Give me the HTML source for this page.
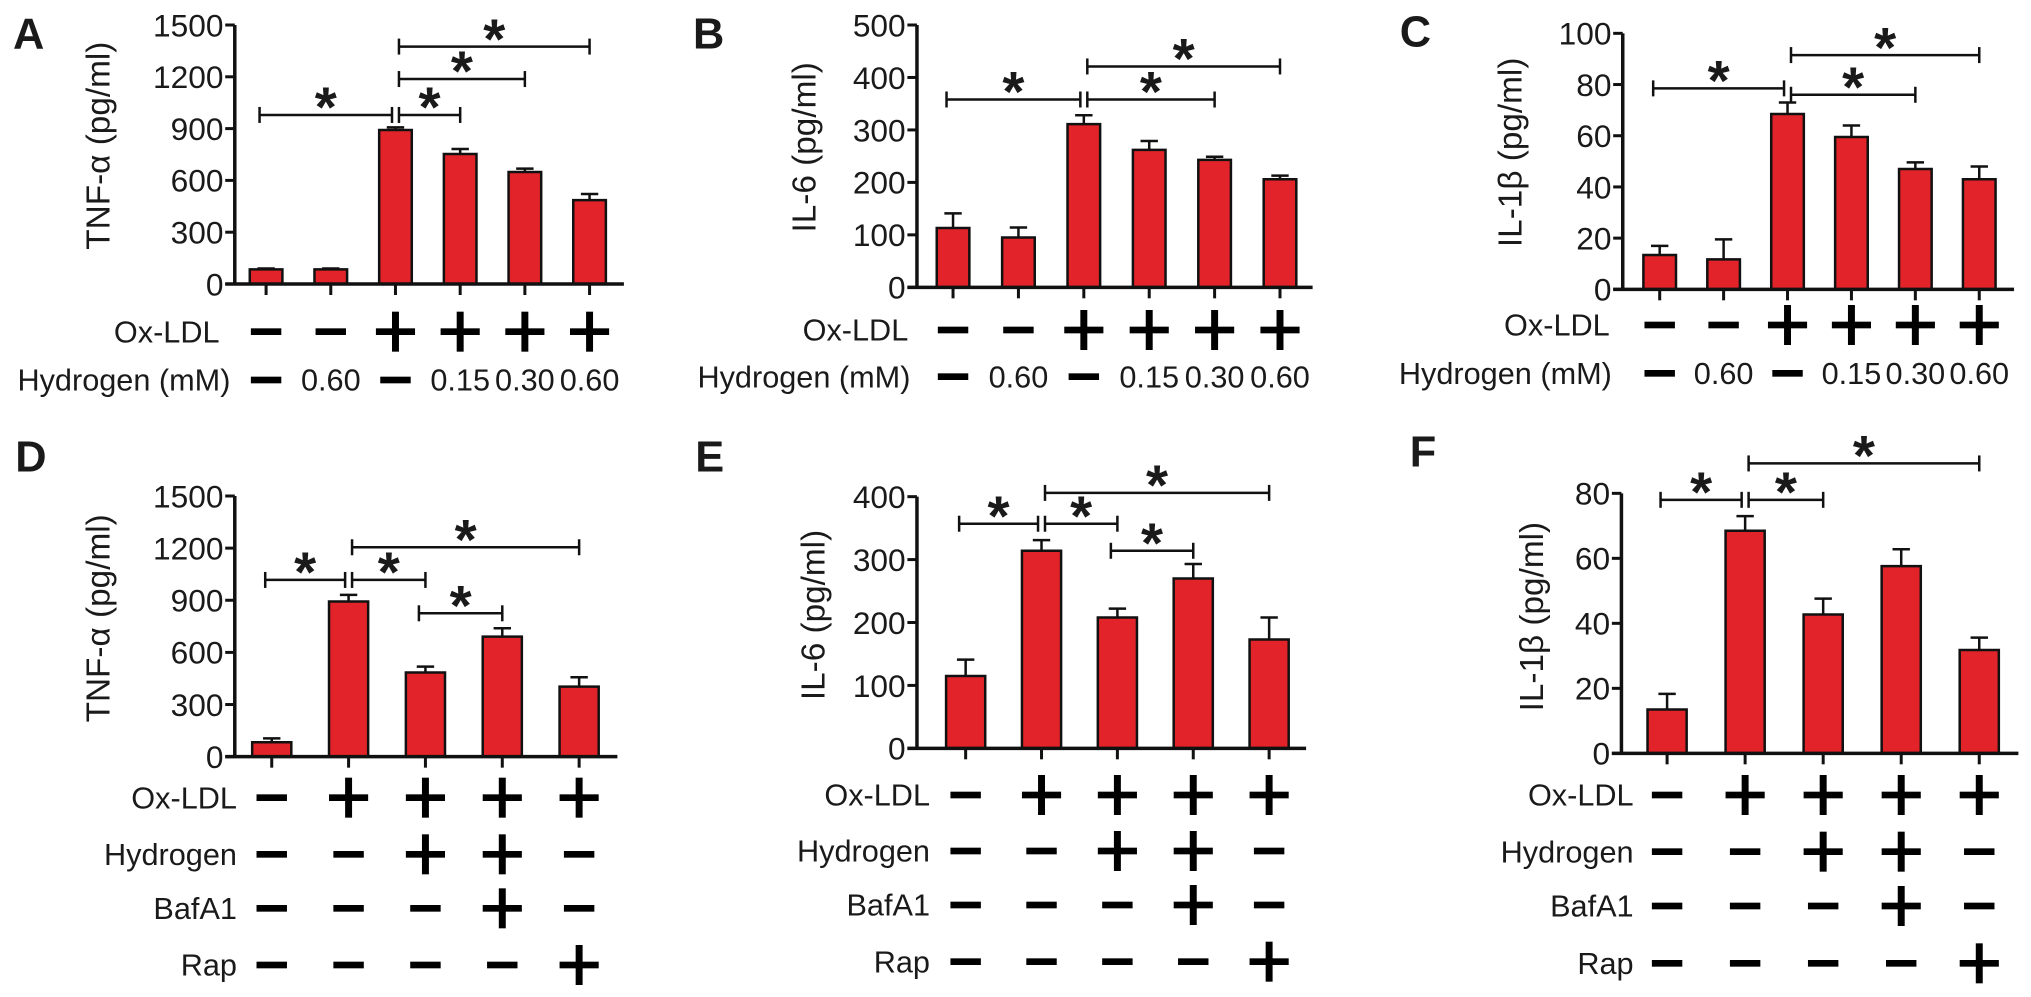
<!DOCTYPE html>
<html><head><meta charset="utf-8"><title>Cytokine bar charts</title>
<style>
html,body{margin:0;padding:0;background:#fff;}
svg{display:block;font-family:"Liberation Sans",Arial,sans-serif;}
</style></head>
<body>
<svg id="fig" width="2031" height="997" viewBox="0 0 2031 997" xmlns="http://www.w3.org/2000/svg">
<rect x="0" y="0" width="2031" height="997" fill="#fff"/>
</svg>
<script>
// ---- data ----
const tnfTicks = [0, 300, 600, 900, 1200, 1500];
const il6TicksTop = [0, 100, 200, 300, 400, 500];
const il1bTicksTop = [0, 20, 40, 60, 80, 100];
const il6TicksBottom = [0, 100, 200, 300, 400];
const il1bTicksBottom = [0, 20, 40, 60, 80];

const aValues = [85, 85, 892, 753, 649, 486];
const aErrors = [5, 5, 15, 29, 19, 35];
const bValues = [113, 95, 311, 262, 243, 206];
const bErrors = [28, 19, 17, 17, 6, 7];
const cValues = [13.4, 11.7, 68.5, 59.5, 47, 43];
const cErrors = [3.6, 7.8, 4.5, 4.5, 2.6, 5];
const dValues = [83, 893, 484, 691, 403];
const dErrors = [22, 38, 34, 48, 54];
const eValues = [115, 314, 208, 270, 173];
const eErrors = [26, 17, 14, 23, 35];
const fValues = [13.5, 68.5, 42.7, 57.6, 31.8];
const fErrors = [4.8, 4.5, 4.9, 5.2, 3.8];

const oxLdlTop = ['-', '-', '+', '+', '+', '+'];
const hydrogenTop = ['-', '0.60', '-', '0.15', '0.30', '0.60'];
const oxLdlBottom = ['-', '+', '+', '+', '+'];
const hydrogenBottom = ['-', '-', '+', '+', '-'];
const bafA1Bottom = ['-', '-', '-', '+', '-'];
const rapBottom = ['-', '-', '-', '-', '+'];

const sigAPairs = [[0, 2], [2, 3], [2, 4], [2, 5]];
const sigALevels = [979, 979, 1187, 1375];
const sigBPairs = [[0, 2], [2, 4], [2, 5]];
const sigBLevels = [358, 358, 421];
const sigCPairs = [[0, 2], [2, 4], [2, 5]];
const sigCLevels = [78.5, 76, 91.5];
const sigDPairs = [[0, 1], [1, 2], [2, 3], [1, 4]];
const sigDLevels = [1017, 1017, 825, 1205];
const sigEPairs = [[0, 1], [1, 2], [2, 3], [1, 4]];
const sigELevels = [357, 357, 314, 406];
const sigFPairs = [[0, 1], [1, 2], [1, 4]];
const sigFLevels = [78, 78, 89.2];

// ---- rendering ----
const NS = 'http://www.w3.org/2000/svg';
const svg = document.getElementById('fig');
const SX = 0.767;
const RED = '#e2242a';
function mk(tag, attrs, parent) {
  const e = document.createElementNS(NS, tag);
  for (const k in attrs) e.setAttribute(k, attrs[k]);
  parent.appendChild(e);
  return e;
}
function txt(parent, s, x, y, size, anchor, bold, rot) {
  const t = mk('text', {
    transform: rot ? `translate(${x},${y}) rotate(-90) scale(1,${SX})` : `translate(${x},${y}) scale(${SX},1)`,
    'font-size': size, 'text-anchor': anchor, 'font-weight': bold ? 'bold' : 'normal', fill: '#1a1a1a'
  }, parent);
  t.textContent = s;
  return t;
}
function line(parent, x1, y1, x2, y2, w) {
  return mk('line', {x1, y1, x2, y2, stroke: '#111', 'stroke-width': w, 'vector-effect': 'non-scaling-stroke'}, parent);
}

function drawPanel(cfg, values, errors, ticks, rows, sigPairs, sigLevels) {
  const g = mk('g', {transform: `translate(${cfg.ox},${cfg.oy}) scale(${1 / 2.3},${1 / 3})`}, svg);
  
  
  const maxT = ticks[ticks.length - 1];
  const y = v => cfg.y0 - v / maxT * (cfg.y0 - cfg.yTop);
  const x = i => cfg.cx0 + i * cfg.step;

  const lt = txt(g, cfg.letter, cfg.letterX, cfg.letterY, 130, 'start', true, false);
  
  

  const tt = txt(g, cfg.title, cfg.titleX + 27, cfg.titleY, 100, 'middle', false, true);
  
  

  values.forEach((v, i) => {
    const top = y(v), et = y(v + errors[i]);
    const eb = line(g, x(i), top, x(i), et, 2.5);
    
    
    const ec = line(g, x(i) - 20, et, x(i) + 20, et, 2.5);
    
    
    const r = mk('rect', {x: x(i) - cfg.barW / 2, y: top, width: cfg.barW, height: cfg.y0 - top, fill: RED, stroke: '#111', 'stroke-width': 2.5, 'vector-effect': 'non-scaling-stroke'}, g);
    
    
    const tk = line(g, x(i), cfg.y0, x(i), cfg.y0 + 33, 3);
    
    
  });

  const ya = line(g, cfg.axisX, y(maxT), cfg.axisX, cfg.y0, 3.5);
  
  
  const xa = line(g, cfg.axisX - 22, cfg.y0, cfg.xEnd, cfg.y0, 3.5);
  
  
  ticks.forEach(t => {
    const tl = line(g, cfg.axisX - 22, y(t), cfg.axisX, y(t), 3);
    
    
    const lb = txt(g, String(t), cfg.axisX - 26, y(t) + 34, 95, 'end', false, false);
    
    
  });

  rows.forEach((row, ri) => {
    const ry = cfg.rows[ri];
    const rl = txt(g, row.label, cfg.labX[ri], ry + 32, 92, 'end', false, false);
    
    
    row.items.forEach((it, i) => {
      const cx = x(i);
      if (it === '-') {
        const m = mk('rect', {x: cx - 35, y: ry - 10, width: 70, height: 20, fill: '#000'}, g);
        
        
      } else if (it === '+') {
        const p = mk('g', {}, g);
        
        
        mk('rect', {x: cx - 45, y: ry - 10, width: 90, height: 20, fill: '#000'}, p);
        mk('rect', {x: cx - 8, y: ry - 60, width: 16, height: 120, fill: '#000'}, p);
      } else {
        const d = txt(g, it, cx, ry + 32, 92, 'middle', false, false);
        
        
      }
    });
  });

  sigPairs.forEach((pr, k) => {
    const ly = y(sigLevels[k]);
    const x1 = x(pr[0]) + (pr[0] === cfg.hub ? 8 : -15);
    const x2 = x(pr[1]) + (pr[1] === cfg.hub ? -8 : 0);
    const sg = mk('g', {}, g);
    
    
    line(sg, x1, ly, x2, ly, 2.5);
    line(sg, x1, ly - 24, x1, ly + 24, 2.5);
    line(sg, x2, ly - 24, x2, ly + 24, 2.5);
    const st = txt(sg, '*', (x1 + x2) / 2, ly + 35, 170, 'middle', true, false);
    
    
  });
}

const cfgA = {letter: 'A', ox: 0, oy: 0, axisX: 540, y0: 852, yTop: 75, cx0: 612, step: 148.8, xEnd: 1435, barW: 75, rows: [995, 1140], labX: [505, 530], title: 'TNF-α (pg/ml)', titleX: 225, titleY: 437, letterX: 30, letterY: 145, hub: 2};
const cfgB = {letter: 'B', ox: 680, oy: 0, axisX: 545, y0: 862, yTop: 75, cx0: 628, step: 150.4, xEnd: 1455, barW: 75, rows: [990, 1130], labX: [525, 530], title: 'IL-6 (pg/ml)', titleX: 285, titleY: 442, letterX: 30, letterY: 145, hub: 2};
const cfgC = {letter: 'C', ox: 1351, oy: 0, axisX: 625, y0: 868, yTop: 100, cx0: 710, step: 147, xEnd: 1525, barW: 75, rows: [975, 1120], labX: [595, 600], title: 'IL-1β (pg/ml)', titleX: 365, titleY: 457, letterX: 112, letterY: 140, hub: 2};
const cfgD = {letter: 'D', ox: 0, oy: 500, axisX: 540, y0: 770, yTop: -12, cx0: 625, step: 176.75, xEnd: 1420, barW: 90, rows: [893, 1063, 1225, 1395], labX: [545, 545, 545, 545], title: 'TNF-α (pg/ml)', titleX: 225, titleY: 355, letterX: 35, letterY: -85, hub: 1};
const cfgE = {letter: 'E', ox: 680, oy: 500, axisX: 545, y0: 745, yTop: -10, cx0: 657, step: 174.5, xEnd: 1440, barW: 90, rows: [885, 1053, 1215, 1385], labX: [575, 575, 575, 575], title: 'IL-6 (pg/ml)', titleX: 305, titleY: 345, letterX: 35, letterY: -85, hub: 1};
const cfgF = {letter: 'F', ox: 1351, oy: 500, axisX: 622, y0: 760, yTop: -20, cx0: 727, step: 179.5, xEnd: 1535, barW: 90, rows: [885, 1055, 1218, 1390], labX: [650, 650, 650, 650], title: 'IL-1β (pg/ml)', titleX: 415, titleY: 350, letterX: 135, letterY: -100, hub: 1};

const topRows = [{label: 'Ox-LDL', items: oxLdlTop}, {label: 'Hydrogen (mM)', items: hydrogenTop}];
const bottomRows = [{label: 'Ox-LDL', items: oxLdlBottom}, {label: 'Hydrogen', items: hydrogenBottom}, {label: 'BafA1', items: bafA1Bottom}, {label: 'Rap', items: rapBottom}];

drawPanel(cfgA, aValues, aErrors, tnfTicks, topRows, sigAPairs, sigALevels);
drawPanel(cfgB, bValues, bErrors, il6TicksTop, topRows, sigBPairs, sigBLevels);
drawPanel(cfgC, cValues, cErrors, il1bTicksTop, topRows, sigCPairs, sigCLevels);
drawPanel(cfgD, dValues, dErrors, tnfTicks, bottomRows, sigDPairs, sigDLevels);
drawPanel(cfgE, eValues, eErrors, il6TicksBottom, bottomRows, sigEPairs, sigELevels);
drawPanel(cfgF, fValues, fErrors, il1bTicksBottom, bottomRows, sigFPairs, sigFLevels);
</script>
</body></html>
